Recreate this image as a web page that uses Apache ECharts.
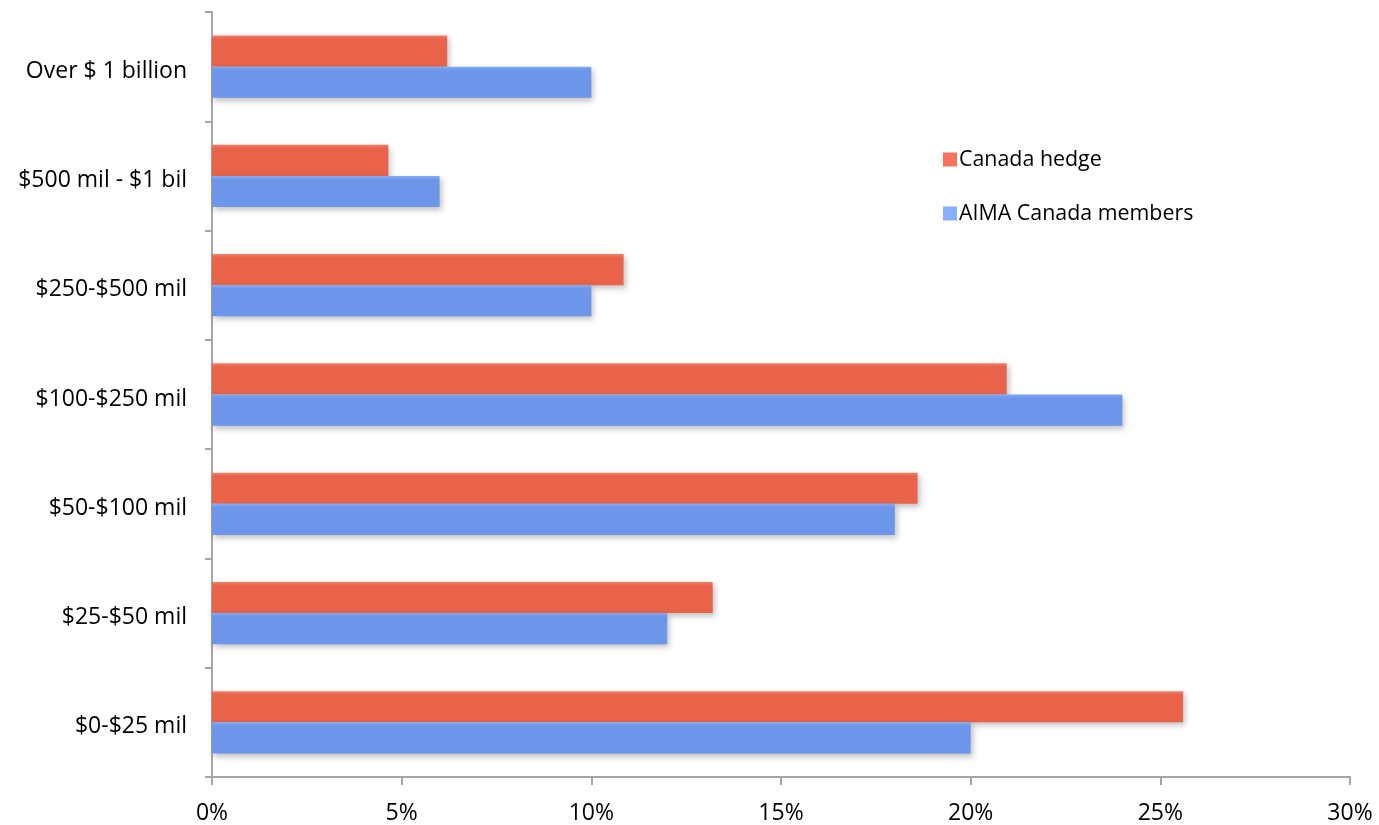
<!DOCTYPE html>
<html>
<head>
<meta charset="utf-8">
<script src="https://cdn.jsdelivr.net/npm/echarts@6/dist/echarts.min.js"></script>
<style>html,body{margin:0;padding:0;background:#fff}#c{width:1379px;height:825px}</style>
</head>
<body>
<div id="c"></div>
<script>
const categories = ['$0-$25 mil', '$25-$50 mil', '$50-$100 mil', '$100-$250 mil', '$250-$500 mil', '$500 mil - $1 bil', 'Over $ 1 billion'];
const canadaHedge = [25.6, 13.2, 18.6, 20.95, 10.85, 4.65, 6.2];
const aimaMembers = [20, 12, 18, 24, 10, 6, 10];
const xTicks = [0, 5, 10, 15, 20, 25, 30];

const FONT = '"Open Sans", "Noto Sans", sans-serif';
const chart = echarts.init(document.getElementById('c'), null, {renderer: 'canvas'});
function grad(top, mid) {
  return new echarts.graphic.LinearGradient(0, 0, 0, 1, [
    {offset: 0, color: top}, {offset: 0.12, color: mid}, {offset: 1, color: mid}
  ]);
}
chart.setOption({
  animation: false,
  backgroundColor: '#fff',
  grid: {left: 212, right: 29, top: 12, bottom: 48},
  legend: {
    orient: 'vertical',
    left: 938, top: 144,
    itemWidth: 14, itemHeight: 14, itemGap: 33,
    icon: 'rect',
    textStyle: {fontFamily: FONT, fontSize: 21.4, color: '#000', padding: [0, 0, 0, -3]},
    data: [
      {name: 'Canada hedge', itemStyle: {color: '#F7735D'}},
      {name: 'AIMA Canada members', itemStyle: {color: '#8AAEF7'}}
    ]
  },
  xAxis: {
    type: 'value', min: 0, max: 30, interval: 5,
    axisLine: {show: true, lineStyle: {color: '#a6a6a6', width: 2}},
    axisTick: {show: true, length: 8, lineStyle: {color: '#a6a6a6', width: 2}},
    splitLine: {show: false},
    axisLabel: {
      margin: 25, fontFamily: FONT, fontSize: 23, color: '#000',
      formatter: v => xTicks.includes(v) ? v + '%' : ''
    }
  },
  yAxis: {
    type: 'category', data: categories,
    axisLine: {show: true, lineStyle: {color: '#a6a6a6', width: 2}},
    axisTick: {show: true, length: 7, lineStyle: {color: '#a6a6a6', width: 2}},
    axisLabel: {
      margin: 25, fontFamily: FONT, fontSize: 23, color: '#000',
      formatter: v => '{a|' + v + '}',
      rich: {a: {fontFamily: FONT, fontSize: 23, color: '#000', padding: [9, 0, 0, 0]}}
    }
  },
  series: [
    {
      name: 'Canada hedge', type: 'bar', data: canadaHedge,
      barGap: '0%', barCategoryGap: '43%',
      itemStyle: {color: grad('#F67D66', '#E8634A'), shadowColor: 'rgba(0,0,0,0.25)', shadowBlur: 6, shadowOffsetX: 2, shadowOffsetY: 3}
    },
    {
      name: 'AIMA Canada members', type: 'bar', data: aimaMembers,
      barGap: '0%', barCategoryGap: '43%',
      itemStyle: {color: grad('#82AAF7', '#6B96EA'), shadowColor: 'rgba(0,0,0,0.25)', shadowBlur: 6, shadowOffsetX: 2, shadowOffsetY: 3}
    }
  ]
});
</script>
</body>
</html>
